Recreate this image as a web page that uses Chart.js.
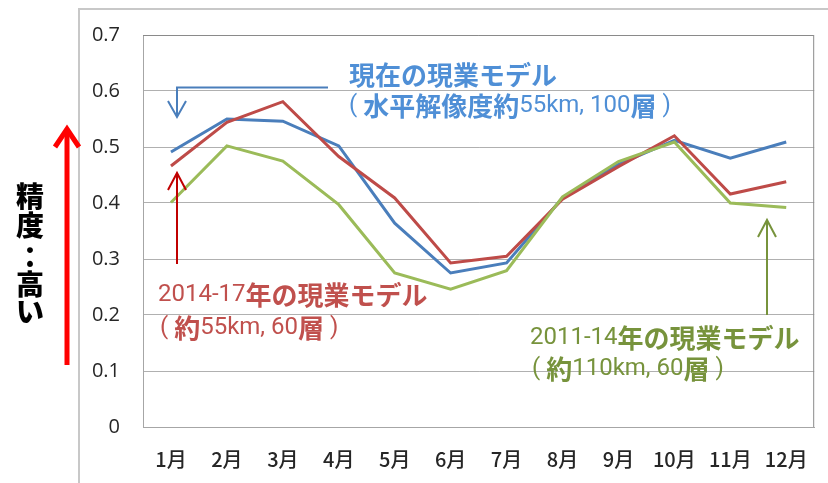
<!DOCTYPE html>
<html>
<head>
<meta charset="utf-8">
<script src="https://cdn.jsdelivr.net/npm/chart.js@4"></script>
<style>
  html, body { margin: 0; padding: 0; background: #fff; }
  #wrap { width: 828px; height: 483px; position: relative; }
</style>
</head>
<body>
<div id="wrap"><canvas id="chart" width="828" height="483"></canvas></div>
<script>
const months = ['1月', '2月', '3月', '4月', '5月', '6月', '7月', '8月', '9月', '10月', '11月', '12月'];
const currentModel = [0.491, 0.550, 0.546, 0.502, 0.364, 0.275, 0.293, 0.409, 0.469, 0.512, 0.480, 0.509];
const model2014 = [0.466, 0.544, 0.581, 0.483, 0.409, 0.293, 0.305, 0.407, 0.465, 0.520, 0.416, 0.438];
const model2011 = [0.401, 0.502, 0.475, 0.397, 0.275, 0.246, 0.279, 0.411, 0.474, 0.509, 0.400, 0.392];
const yTicks = [0, 0.1, 0.2, 0.3, 0.4, 0.5, 0.6, 0.7];

const JP = '"Noto Sans CJK JP", sans-serif';
const LAT = 'Roboto, "Noto Sans", sans-serif';

// 文字列を太字/細字の区切りで描く
function drawRuns(ctx, x, y, runs, color) {
    ctx.fillStyle = color;
    ctx.textBaseline = 'middle';
    ctx.textAlign = 'left';
    runs.forEach(([text, bold]) => {
        ctx.font = bold ? 'bold 26px ' + JP : '24px ' + LAT;
        ctx.fillText(text, x, y);
        x += ctx.measureText(text).width;
    });
}

function line(ctx, pts, color, width) {
    ctx.beginPath();
    ctx.moveTo(pts[0][0], pts[0][1]);
    for (let i = 1; i < pts.length; i++) ctx.lineTo(pts[i][0], pts[i][1]);
    ctx.strokeStyle = color;
    ctx.lineWidth = width;
    ctx.stroke();
}

const notes = {
    id: 'notes',
    beforeDraw(chart) {
        const ctx = chart.ctx;
        ctx.save();
        ctx.fillStyle = '#fff';
        ctx.fillRect(0, 0, chart.width, chart.height);
        // 外枠
        ctx.strokeStyle = '#c8c8c8';
        ctx.lineWidth = 2;
        ctx.strokeRect(79, 9, 800, 500);
        ctx.restore();
    },
    afterDraw(chart) {
        const ctx = chart.ctx;
        const a = chart.chartArea;
        ctx.save();
        ctx.lineCap = 'butt';
        // プロット枠 (上・右)
        line(ctx, [[a.left, a.top + 0.5], [a.right - 0.5, a.top + 0.5], [a.right - 0.5, a.bottom]], '#8a8a8a', 1);

        // 左の赤い矢印と縦書き
        line(ctx, [[67, 365], [67, 130]], '#ff0000', 5);
        line(ctx, [[55, 147], [67, 129], [79, 147]], '#ff0000', 5);
        ctx.fillStyle = '#000';
        ctx.font = '900 28px ' + JP;
        ctx.textAlign = 'center';
        ctx.textBaseline = 'middle';
        [['精', 196], ['度', 225], ['：', 257], ['高', 284], ['い', 311]].forEach(([c, y]) => ctx.fillText(c, 30, y));

        // 青: 現在の現業モデル
        line(ctx, [[328, 87.5], [177, 87.5], [177, 116]], '#4a7ebb', 2);
        line(ctx, [[168, 101], [177, 117], [186, 101]], '#4a7ebb', 2);
        drawRuns(ctx, 349, 75, [['現在の現業モデル', true]], '#4f8fd6');
        drawRuns(ctx, 349, 106, [['( ', false], ['水平解像度約', true], ['55km, 100', false], ['層', true], [' )', false]], '#4f8fd6');

        // 赤: 2014-17年
        line(ctx, [[177, 264], [177, 174]], '#c00000', 2);
        line(ctx, [[168, 190], [177, 173], [186, 190]], '#c00000', 2);
        drawRuns(ctx, 158, 295, [['2014-17', false], ['年の現業モデル', true]], '#c0504d');
        drawRuns(ctx, 160, 328, [['( ', false], ['約', true], ['55km, 60', false], ['層', true], [' )', false]], '#c0504d');

        // 緑: 2011-14年
        line(ctx, [[767, 315], [767, 221]], '#77933c', 2);
        line(ctx, [[758, 237], [767, 220], [776, 237]], '#77933c', 2);
        drawRuns(ctx, 530, 338, [['2011-14', false], ['年の現業モデル', true]], '#77933c');
        drawRuns(ctx, 532, 369, [['( ', false], ['約', true], ['110km, 60', false], ['層', true], [' )', false]], '#77933c');
        ctx.restore();
    }
};

new Chart(document.getElementById('chart'), {
    type: 'line',
    data: {
        labels: months,
        datasets: [
            { label: '現在の現業モデル', data: currentModel, borderColor: '#4a7ebb', order: 3 },
            { label: '2014-17年の現業モデル', data: model2014, borderColor: '#be4b48', order: 2 },
            { label: '2011-14年の現業モデル', data: model2011, borderColor: '#9bbb59', order: 1 }
        ]
    },
    options: {
        responsive: false,
        animation: false,
        layout: { padding: { left: 0, top: 33, right: 9, bottom: 0 } },
        elements: {
            line: { borderWidth: 3, tension: 0, fill: false },
            point: { radius: 0 }
        },
        plugins: { legend: { display: false }, tooltip: { enabled: false } },
        scales: {
            x: {
                offset: true,
                grid: { display: false, drawTicks: false },
                border: { color: '#a6a6a6', width: 1 },
                ticks: { color: '#262626', font: { family: JP, size: 20, weight: 500 }, padding: 20, maxRotation: 0 },
                afterFit(scale) { scale.height = 56; }
            },
            y: {
                min: 0,
                max: 0.7,
                afterBuildTicks(scale) { scale.ticks = yTicks.map(v => ({ value: v })); },
                grid: { color: '#b0b0b0', drawTicks: false },
                border: { color: '#a6a6a6', width: 1 },
                ticks: {
                    color: '#262626',
                    font: { family: '"Open Sans", sans-serif', size: 20 },
                    padding: 23,
                    callback: v => v === 0 ? '0' : v.toFixed(1)
                },
                afterFit(scale) { scale.width = 143; }
            }
        }
    },
    plugins: [notes]
});
</script>
</body>
</html>
